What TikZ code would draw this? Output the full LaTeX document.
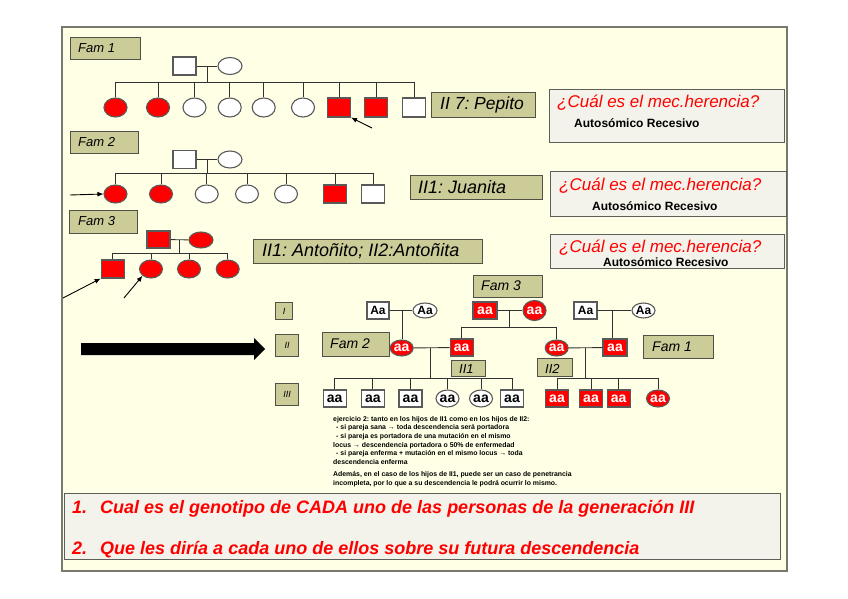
\documentclass[tikz,border=0pt]{standalone}
\usepackage{fontspec}
\setmainfont{Liberation Sans}
\frenchspacing
\usetikzlibrary{shapes.geometric,arrows.meta}
\definecolor{bgy}{RGB}{255,255,229}
\definecolor{frm}{RGB}{120,120,110}
\definecolor{labf}{RGB}{204,204,153}
\definecolor{labd}{RGB}{80,80,70}
\definecolor{qf}{RGB}{243,243,235}
\definecolor{qd}{RGB}{95,95,90}
\definecolor{ln}{RGB}{50,50,50}
\definecolor{shd}{RGB}{90,90,90}
\newcommand{\fsz}[1]{\fontsize{#1}{#1}\selectfont}
\tikzset{
  lb/.style={draw=labd, fill=labf, line width=1pt, inner sep=0pt, anchor=north west},
  lt/.style={inner sep=0pt, anchor=west},
  genlab/.style={draw=labd, fill=labf, line width=1pt, inner sep=0pt, align=center, anchor=north west, font=\itshape\fsz{9}},
  qbox/.style={draw=qd, fill=qf, line width=1.4pt, inner sep=0pt, anchor=north west},
  qtit/.style={text=red, font=\itshape\fsz{17}, inner sep=0pt, anchor=west},
  qans/.style={font=\bfseries\fsz{12}, inner sep=0pt, anchor=west},
  ind/.style={inner sep=0pt, line width=1.1pt, draw=shd},
  sqW/.style={ind, rectangle, fill=white, minimum width=23pt, minimum height=19pt},
  sqR/.style={ind, rectangle, fill=red, minimum width=23pt, minimum height=19pt},
  elW/.style={ind, ellipse, fill=white, minimum width=23pt, minimum height=19pt},
  elR/.style={ind, ellipse, fill=red, minimum width=23pt, minimum height=19pt},
  pl/.style={draw=ln, line width=0.9pt},
  parr/.style={draw=black, line width=0.9pt, -{Latex[length=6pt,width=5pt]}},
  Aa/.style={font=\bfseries\fsz{12}},
  aaW/.style={font=\bfseries\fsz{14}},
  aaR/.style={font=\bfseries\fsz{14}, text=white}
}
\begin{document}
\begin{tikzpicture}[x=1pt,y=-1pt]
\useasboundingbox (0,0) rectangle (848,599);
\fill[white] (0,0) rectangle (848,599);
\draw[fill=bgy, draw=frm, line width=1.2pt] (62,27) rectangle (787,571);

% ---------------- Fam 1 ----------------
\node[lb, minimum width=70pt, minimum height=22pt] (fam1) at (70,37) {};
\node[lt, font=\itshape\fsz{13}] (fam1t) at (78,48) {Fam 1};
\node[sqW, minimum height=18pt] (a1F) at (184.5,66) {};
\node[elW, minimum width=24pt, minimum height=17pt] (a1M) at (230,66) {};
\draw[pl] (a1F) -- (a1M);
\coordinate (a1m) at (207,66);
\coordinate (a1s) at (207,82);
\draw[pl] (a1m) -- (a1s);
\foreach \x/\s [count=\i] in {115.5/elR,158/elR,194.5/elW,229.7/elW,263.7/elW,303/elW,339/sqR,376/sqR,414/sqW}
  \node[\s] (a1c\i) at (\x,107.5) {};
\draw[pl] (a1s -| a1c1) -- (a1s -| a1c9);
\foreach \i in {1,...,9} \draw[pl] (a1s -| a1c\i) -- (a1c\i.north);
\coordinate (a1ar) at (372,128);
\draw[parr] (a1ar) -- (a1c7.south east);
\node[lb, minimum width=104pt, minimum height=25pt] (pep) at (431,92) {};
\node[lt, font=\itshape\fsz{17.5}] (pept) at (440,104.5) {II 7: Pepito};
\node[qbox, minimum width=235pt, minimum height=53pt] (q1) at (549,89) {};
\node[qtit] (q1t) at (557,103) {¿Cuál es el mec.herencia?};
\node[qans] (q1a) at (574,123.5) {Autosómico Recesivo};

% ---------------- Fam 2 ----------------
\node[lb, minimum width=68pt, minimum height=22pt] (fam2) at (70,131) {};
\node[lt, font=\itshape\fsz{13}] (fam2t) at (78,142) {Fam 2};
\node[sqW, minimum height=18pt] (a2F) at (184.5,159.5) {};
\node[elW, minimum width=24pt, minimum height=17pt] (a2M) at (230,159.5) {};
\draw[pl] (a2F) -- (a2M);
\coordinate (a2m) at (207,159.5);
\coordinate (a2s) at (207,173);
\draw[pl] (a2m) -- (a2s);
\foreach \x/\s [count=\i] in {115.5/elR,161/elR,206.7/elW,247/elW,286/elW,335/sqR,373/sqW}
  \node[\s, minimum height=18pt] (a2c\i) at (\x,194) {};
\draw[pl] (a2s -| a2c1) -- (a2s -| a2c7);
\foreach \i in {1,...,7} \draw[pl] (a2s -| a2c\i) -- (a2c\i.north);
\coordinate (a2ar) at (70,195);
\draw[parr] (a2ar) -- (a2c1.west);
\node[lb, minimum width=132pt, minimum height=24pt] (jua) at (410,175) {};
\node[lt, font=\itshape\fsz{18}] (juat) at (418,187) {II1: Juanita};
\node[qbox, minimum width=236pt, minimum height=45pt] (q2) at (550,171) {};
\node[qtit] (q2t) at (559,186) {¿Cuál es el mec.herencia?};
\node[qans] (q2a) at (592,206) {Autosómico Recesivo};

% ---------------- Fam 3 ----------------
\node[lb, minimum width=68pt, minimum height=23pt] (fam3) at (69,210) {};
\node[lt, font=\itshape\fsz{13}] (fam3t) at (78,221.5) {Fam 3};
\node[sqR, minimum height=17pt] (a3F) at (158.5,239.5) {};
\node[elR, minimum width=24pt, minimum height=16pt] (a3M) at (201,240) {};
\draw[pl] (a3F) -- (a3M);
\coordinate (a3m) at (179,239.5);
\coordinate (a3s) at (179,253);
\draw[pl] (a3m) -- (a3s);
\foreach \x/\s [count=\i] in {112.7/sqR,151/elR,189/elR,227.7/elR}
  \node[\s, minimum height=18pt] (a3c\i) at (\x,269) {};
\draw[pl] (a3s -| a3c1) -- (a3s -| a3c4);
\foreach \i in {1,...,4} \draw[pl] (a3s -| a3c\i) -- (a3c\i.north);
\coordinate (a3ar1) at (63,298);
\coordinate (a3ar2) at (124,298);
\draw[parr] (a3ar1) -- (a3c1.south west);
\draw[parr] (a3ar2) -- (a3c2.south west);
\node[lb, minimum width=229pt, minimum height=24pt] (ant) at (253,239) {};
\node[lt, font=\itshape\fsz{18}] (antt) at (262,251) {II1: Antoñito; II2:Antoñita};
\node[qbox, minimum width=234pt, minimum height=34pt] (q3) at (550,234) {};
\node[qtit] (q3t) at (559,248) {¿Cuál es el mec.herencia?};
\node[qans] (q3a) at (603,262) {Autosómico Recesivo};

% ---------------- big arrow ----------------
\fill[black] (81,343) -- (254,343) -- (254,338) -- (265,349) -- (254,360) -- (254,355) -- (81,355) -- cycle;

% ---------------- generation labels ----------------
\node[genlab, minimum width=17pt, minimum height=17pt] (gI) at (275,302) {I};
\node[genlab, minimum width=23pt, minimum height=22pt] (gII) at (275,334) {II};
\node[genlab, minimum width=23pt, minimum height=22pt] (gIII) at (275,383) {III};

% ---------------- combined pedigree ----------------
\node[lb, minimum width=69pt, minimum height=22pt] (mf3) at (473,275) {};
\node[lt, font=\itshape\fsz{14}] (mf3t) at (481,286) {Fam 3};
\node[lb, minimum width=67pt, minimum height=24pt] (mf2) at (322,332) {};
\node[lt, font=\itshape\fsz{14}] (mf2t) at (330,344) {Fam 2};
\node[lb, minimum width=70pt, minimum height=23pt] (mf1) at (643,335) {};
\node[lt, font=\itshape\fsz{14}] (mf1t) at (652,346.5) {Fam 1};

% generation I
\node[sqW, minimum width=22pt, minimum height=17pt, Aa] (g1a) at (378,310.5) {Aa};
\node[elW, minimum width=24pt, minimum height=15pt, Aa] (g1b) at (425,310.5) {Aa};
\node[sqR, minimum width=24pt, minimum height=17pt, aaR] (g1c) at (485,310.5) {aa};
\node[elR, minimum width=23pt, minimum height=20pt, aaR] (g1d) at (534.5,310.5) {aa};
\node[sqW, minimum width=23pt, minimum height=17pt, Aa] (g1e) at (585.5,310.5) {Aa};
\node[elW, minimum width=23pt, minimum height=15pt, Aa] (g1f) at (643.5,310.5) {Aa};
\draw[pl] (g1a) -- (g1b);
\draw[pl] (g1c) -- (g1d);
\draw[pl] (g1e) -- (g1f);
\coordinate (m1) at (402,310.5);
\coordinate (m2) at (509,310.5);
\coordinate (m2s) at (509,327);
\coordinate (m3) at (612,310.5);

% generation II
\node[elR, minimum width=23pt, minimum height=16pt, aaR] (g2a) at (401.7,348) {aa};
\node[sqR, minimum width=23pt, minimum height=17pt, aaR] (g2b) at (461.7,347.5) {aa};
\node[elR, minimum width=23pt, minimum height=16pt, aaR] (g2c) at (556.7,348) {aa};
\node[sqR, minimum width=24pt, minimum height=17pt, aaR] (g2d) at (615,347.5) {aa};
\draw[pl] (m1) -- (m1 |- g2a.north);
\draw[pl] (m2) -- (m2s);
\draw[pl] (m2s -| g2b) -- (m2s -| g2c);
\draw[pl] (m2s -| g2b) -- (g2b.north);
\draw[pl] (m2s -| g2c) -- (g2c.north);
\draw[pl] (m3) -- (m3 |- g2d.north);
\draw[pl] (g2a) -- (g2b);
\draw[pl] (g2c) -- (g2d);
\coordinate (m4) at (430,348);
\coordinate (m4s) at (430,378);
\coordinate (m5) at (585,348);
\coordinate (m5s) at (585,378);
\draw[pl] (m4) -- (m4s);
\draw[pl] (m5) -- (m5s);

\node[lb, minimum width=34pt, minimum height=16pt] (l21) at (451,360) {};
\node[lt, font=\itshape\fsz{13}] (l21t) at (459,369.5) {II1};
\node[lb, minimum width=35pt, minimum height=18pt] (l22) at (537,358) {};
\node[lt, font=\itshape\fsz{13}] (l22t) at (545,369) {II2};

% generation III
\foreach \x/\s [count=\i] in {334.7/sqW,372.8/sqW,410.5/sqW,447.5/elW,481/elW,512/sqW}
  \node[\s, minimum width=23pt, minimum height=17pt, aaW] (h\i) at (\x,398.5) {aa};
\draw[pl] (m4s -| h1) -- (m4s -| h6);
\foreach \i in {1,...,6} \draw[pl] (m4s -| h\i) -- (h\i.north);
\foreach \x/\s [count=\i] in {557/sqR,591/sqR,618.7/sqR,658/elR}
  \node[\s, minimum width=23pt, minimum height=17pt, aaR] (k\i) at (\x,398.5) {aa};
\draw[pl] (m5s -| k1) -- (m5s -| k4);
\foreach \i in {1,...,4} \draw[pl] (m5s -| k\i) -- (k\i.north);

% ---------------- note ----------------
\node[anchor=north west, align=left, inner sep=0pt, font=\bfseries\fontsize{6.9}{8.6}\selectfont] (note) at (333,416)
{ejercicio 2: tanto en los hijos de II1 como en los hijos de II2:\\
\hspace{3pt}- si pareja sana → toda descendencia será portadora\\
\hspace{3pt}- si pareja es portadora de una mutación en el mismo\\
locus → descendencia portadora o 50\% de enfermedad\\
\hspace{3pt}- si pareja enferma + mutación en el mismo locus → toda\\
descendencia enferma\\[4pt]
Además, en el caso de los hijos de II1, puede ser un caso de penetrancia\\
incompleta, por lo que a su descendencia le podrá ocurrir lo mismo.};

% ---------------- bottom questions ----------------
\node[qbox, minimum width=716pt, minimum height=66pt] (qb) at (64,493) {};
\node[anchor=west, inner sep=0pt, text=red, font=\bfseries\itshape\fsz{18}] (b1) at (72,509) {1.\hspace{13pt}Cual es el genotipo de CADA uno de las personas de la generación III};
\node[anchor=west, inner sep=0pt, text=red, font=\bfseries\itshape\fsz{18}] (b2) at (72,550) {2.\hspace{13pt}Que les diría a cada uno de ellos sobre su futura descendencia};
\end{tikzpicture}
\end{document}
